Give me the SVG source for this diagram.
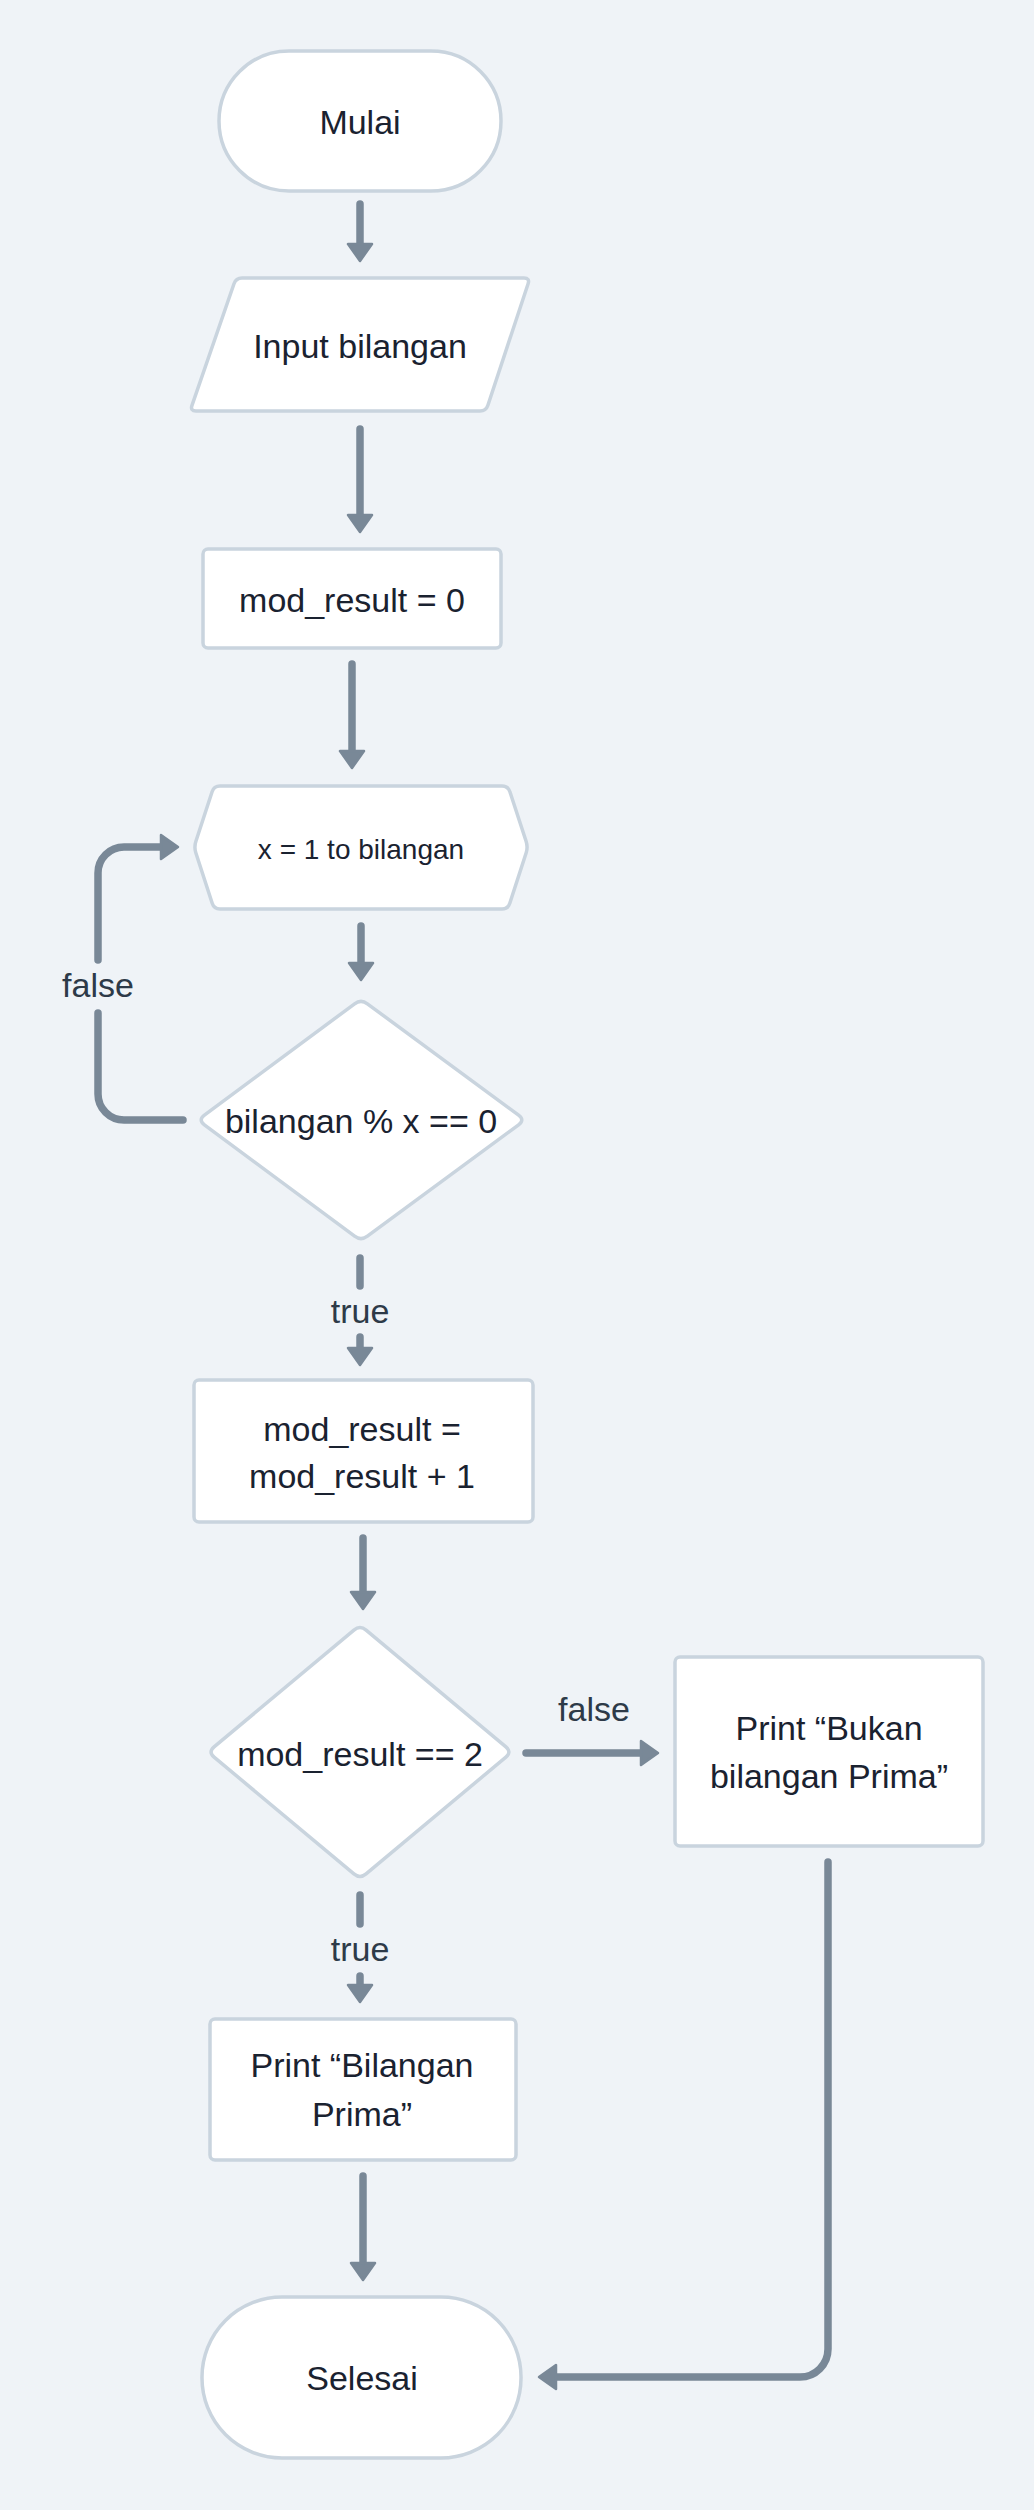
<svg xmlns="http://www.w3.org/2000/svg" width="1034" height="2510" viewBox="0 0 1034 2510">
  <defs>
    <style>
      .node { fill: #ffffff; stroke: #c9d4de; stroke-width: 3.5; stroke-linejoin: round; }
      .txt { font-family: "Liberation Sans", Arial, sans-serif; font-size: 34px; fill: #1a2230; text-anchor: middle; }
      .small { font-size: 28px; }
      .lbl { font-family: "Liberation Sans", Arial, sans-serif; font-size: 34px; fill: #2d3a48; text-anchor: middle; }
      .edge { fill: none; stroke: #798897; stroke-width: 7.5; stroke-linecap: round; stroke-linejoin: round; }
    </style>
    <marker id="arrow" markerUnits="userSpaceOnUse" markerWidth="30" markerHeight="32" viewBox="-3 -16 24 32" refX="1" refY="0" orient="auto">
      <path d="M0,-12 L17,0 L0,12 Z" fill="#798897" stroke="#798897" stroke-width="2.5" stroke-linejoin="round"/>
    </marker>
  </defs>
  <rect width="1034" height="2510" fill="#eff3f7"/>

  <g id="connectors">
    <path class="edge" d="M360,204 V245" marker-end="url(#arrow)"/>
    <path class="edge" d="M360,429 V516" marker-end="url(#arrow)"/>
    <path class="edge" d="M352,664 V752" marker-end="url(#arrow)"/>
    <path class="edge" d="M361,926 V964" marker-end="url(#arrow)"/>
    <path class="edge" d="M183,1120 H124 A26,26 0 0 1 98,1094 V1013"/>
    <path class="edge" d="M98,960 V873 A26,26 0 0 1 124,847 H162" marker-end="url(#arrow)"/>
    <path class="edge" d="M360,1258 V1286"/>
    <path class="edge" d="M360,1337 V1349" marker-end="url(#arrow)"/>
    <path class="edge" d="M363,1538 V1593" marker-end="url(#arrow)"/>
    <path class="edge" d="M526,1753 H642" marker-end="url(#arrow)"/>
    <path class="edge" d="M360,1895 V1924"/>
    <path class="edge" d="M360,1976 V1986" marker-end="url(#arrow)"/>
    <path class="edge" d="M363,2176 V2264" marker-end="url(#arrow)"/>
    <path class="edge" d="M828,1862 V2349 A28,28 0 0 1 800,2377 H555" marker-end="url(#arrow)"/>
    <text class="lbl" x="98" y="997">false</text>
    <text class="lbl" x="360" y="1323">true</text>
    <text class="lbl" x="594" y="1721">false</text>
    <text class="lbl" x="360" y="1961">true</text>
  </g>

  <g id="mulai">
    <rect class="node" x="219" y="51" width="282" height="140" rx="70"/>
    <text class="txt" x="360" y="134">Mulai</text>
  </g>
  <g id="input">
    <path class="node" d="M242,278 L524,278 Q530,278 528.1,283.7 L487.9,405.3 Q486,411 480,411 L196,411 Q190,411 192,405.3 L234,283.7 Q236,278 242,278 Z"/>
    <text class="txt" x="360" y="358">Input bilangan</text>
  </g>
  <g id="init">
    <rect class="node" x="203" y="549" width="298" height="99" rx="5"/>
    <text class="txt" x="352" y="612">mod_result = 0</text>
  </g>
  <g id="loop">
    <path class="node" d="M195.9,841.3 L212.1,791.7 Q214,786 220,786 L502,786 Q508,786 509.9,791.7 L526.1,841.3 Q528,847 526.2,852.7 L509.8,903.3 Q508,909 502,909 L220,909 Q214,909 212.2,903.3 L195.8,852.7 Q194,847 195.9,841.3 Z"/>
    <text class="txt small" x="361" y="859">x = 1 to bilangan</text>
  </g>
  <g id="cond1">
    <path class="node" d="M367.4,1003.8 L518.6,1115.2 Q525,1120 518.6,1124.8 L367.4,1236.2 Q361,1241 354.6,1236.2 L204.4,1124.8 Q198,1120 204.4,1115.2 L354.6,1003.8 Q361,999 367.4,1003.8 Z"/>
    <text class="txt" x="361" y="1133">bilangan % x == 0</text>
  </g>
  <g id="increment">
    <rect class="node" x="194" y="1380" width="339" height="142" rx="5"/>
    <text class="txt" x="362" y="1441">mod_result =</text>
    <text class="txt" x="362" y="1488">mod_result + 1</text>
  </g>
  <g id="cond2">
    <path class="node" d="M366.1,1630.1 L505.9,1746.9 Q512,1752 505.9,1757.1 L366.1,1873.9 Q360,1879 353.9,1873.9 L214.1,1757.1 Q208,1752 214.1,1746.9 L353.9,1630.1 Q360,1625 366.1,1630.1 Z"/>
    <text class="txt" x="360" y="1766">mod_result == 2</text>
  </g>
  <g id="bukan">
    <rect class="node" x="675" y="1657" width="308" height="189" rx="5"/>
    <text class="txt" x="829" y="1740">Print “Bukan</text>
    <text class="txt" x="829" y="1788">bilangan Prima”</text>
  </g>
  <g id="prima">
    <rect class="node" x="210" y="2019" width="306" height="141" rx="5"/>
    <text class="txt" x="362" y="2077">Print “Bilangan</text>
    <text class="txt" x="362" y="2126">Prima”</text>
  </g>
  <g id="selesai">
    <rect class="node" x="202" y="2297" width="319" height="161" rx="80"/>
    <text class="txt" x="362" y="2390">Selesai</text>
  </g>
</svg>
